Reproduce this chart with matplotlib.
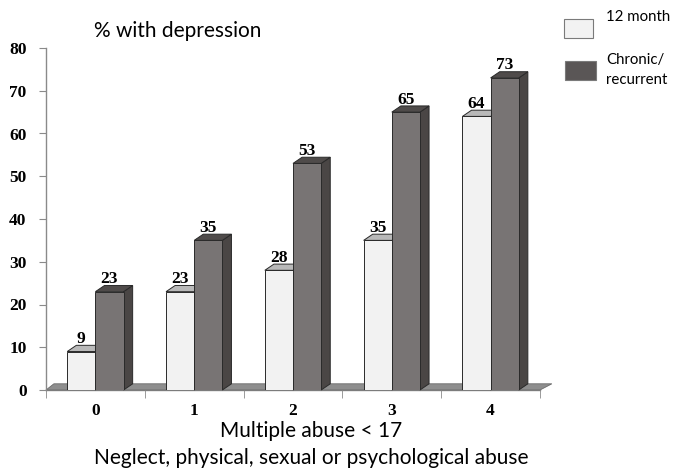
import numpy as np
import matplotlib.pyplot as plt
from matplotlib.patches import Polygon, Rectangle

categories = ["0", "1", "2", "3", "4"]
month12 = [9, 23, 28, 35, 64]
chronic = [23, 35, 53, 65, 73]
series_names = ["12 month", "Chronic/\nrecurrent"]

light_front, light_top, light_side = "#f2f2f2", "#b9b9b9", "#9a9a9a"
dark_front, dark_top, dark_side = "#787474", "#4f4b4a", "#4a4645"
edge = "#2a2a2a"
floor_col = "#8e8e8e"

W, H = 673, 469
fig = plt.figure(figsize=(W / 100, H / 100), dpi=100)
ax = fig.add_axes([46 / W, (H - 390) / H, (540 - 46) / W, (390 - 48) / H])

x = np.arange(len(categories))
bw = 0.285
dx, dy = 0.092, 1.45  # depth offset in data units

ax.set_xlim(-0.5, len(categories) - 0.5)
ax.set_ylim(0, 80)

# floor strip
ax.add_patch(Polygon([(-0.5, 0), (4.5, 0), (4.5 + 0.12, dy), (-0.5 + 0.08, dy)],
                     closed=True, facecolor=floor_col, edgecolor="#6a6a6a",
                     lw=0.6, zorder=1, clip_on=False))


def bar3d(xl, val, front, top, side, z):
    ax.add_patch(Polygon([(xl + bw, 0), (xl + bw + dx, dy), (xl + bw + dx, val + dy),
                          (xl + bw, val)], closed=True, facecolor=side,
                         edgecolor=edge, lw=0.7, zorder=z, clip_on=False))
    ax.add_patch(Polygon([(xl, val), (xl + dx, val + dy), (xl + bw + dx, val + dy),
                          (xl + bw, val)], closed=True, facecolor=top,
                         edgecolor=edge, lw=0.7, zorder=z, clip_on=False))
    ax.bar(xl, val, bw, align="edge", color=front, edgecolor=edge, lw=0.7,
           zorder=z + 0.5)


num_font = dict(family="Liberation Serif", weight="bold", fontsize=12.5)

for i in range(len(categories)):
    bar3d(x[i] - bw, month12[i], light_front, light_top, light_side, 2 + i * 2)
    bar3d(x[i], chronic[i], dark_front, dark_top, dark_side, 3 + i * 2)
    ax.text(x[i] - bw / 2, month12[i] + dy - 0.4, str(month12[i]), ha="center",
            va="bottom", zorder=20, **num_font)
    ax.text(x[i] + bw / 2, chronic[i] + dy - 0.4, str(chronic[i]), ha="center",
            va="bottom", zorder=20, **num_font)

for s in ["top", "right"]:
    ax.spines[s].set_visible(False)
for s in ["left", "bottom"]:
    ax.spines[s].set_color("#8a8a8a")
    ax.spines[s].set_linewidth(1.0)
ax.spines["bottom"].set_zorder(0.5)

ax.set_yticks(np.arange(0, 81, 10))
ax.set_yticklabels([str(v) for v in range(0, 81, 10)], **num_font)
ax.tick_params(axis="y", length=5, color="#8a8a8a", pad=9)

ax.set_xticks(x)
ax.set_xticklabels(categories, **num_font)
ax.set_xticks(np.arange(-0.5, len(categories)), minor=True)
ax.tick_params(axis="x", which="major", length=0, pad=9.5)
ax.tick_params(axis="x", which="minor", length=6, color="#8a8a8a")

fig.text(178 / W, 1 - 31 / H, "% with depression", ha="center", va="center",
         family="Lato", fontsize=15)
fig.text(311 / W, 1 - 437 / H, "Multiple abuse < 17", ha="center", va="baseline",
         family="Lato", fontsize=15)
fig.text(311 / W, 1 - 464 / H, "Neglect, physical, sexual or psychological abuse",
         ha="center", va="baseline", family="Lato", fontsize=15)

# legend
fig.patches.append(Rectangle((564 / W, 1 - 38 / H), 29 / W, 19 / H, transform=fig.transFigure,
                             facecolor=light_front, edgecolor="#7a7a7a", lw=0.8))
fig.patches.append(Rectangle((565 / W, 1 - 80 / H), 31 / W, 19 / H, transform=fig.transFigure,
                             facecolor="#5a5656", edgecolor="#7a7a7a", lw=0.8))
fig.text(606 / W, 1 - 17 / H, series_names[0], ha="left", va="center",
         family="Lato", fontsize=10.8)
fig.text(606 / W, 1 - 70 / H, series_names[1], ha="left", va="center",
         family="Lato", fontsize=10.8, linespacing=1.55)

fig.savefig("out.png", dpi=100)
